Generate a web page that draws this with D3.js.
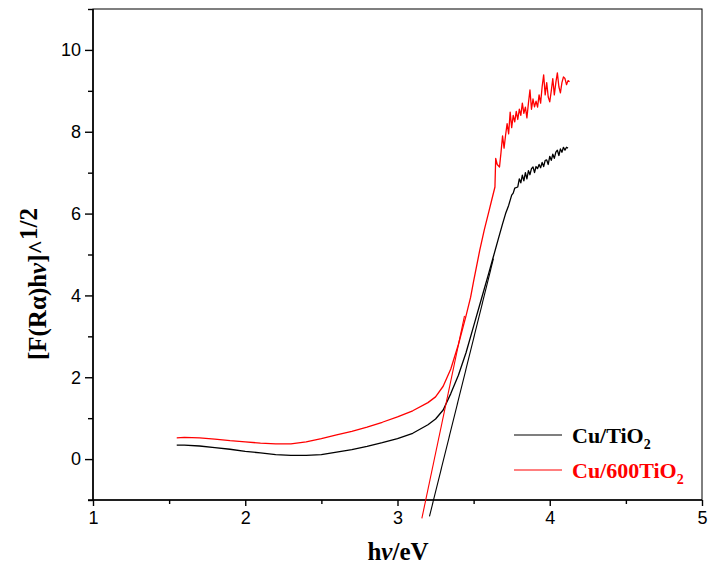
<!DOCTYPE html>
<html>
<head>
<meta charset="utf-8">
<script src="https://cdn.jsdelivr.net/npm/d3@7"></script>
<style>
    body { margin: 0; background: #fff; }
</style>
</head>
<body>
<div id="wrapper"></div>
<script>
// Cu/TiO2 (black)
const energyA = [1.55, 1.6, 1.7, 1.8, 1.9, 2.0, 2.1, 2.2, 2.3, 2.4, 2.5, 2.6, 2.7, 2.8, 2.9, 3.0, 3.1, 3.2, 3.25, 3.3, 3.35, 3.4, 3.45, 3.5, 3.55, 3.6, 3.63, 3.66, 3.69, 3.71, 3.73, 3.75, 3.76, 3.77, 3.79, 3.80, 3.81, 3.82, 3.83, 3.84, 3.85, 3.86, 3.87, 3.88, 3.89, 3.90, 3.91, 3.92, 3.93, 3.94, 3.95, 3.96, 3.97, 3.98, 3.99, 4.00, 4.01, 4.02, 4.03, 4.04, 4.05, 4.06, 4.07, 4.08, 4.09, 4.10, 4.11, 4.12]
const valuesA = [0.34, 0.34, 0.32, 0.28, 0.24, 0.19, 0.15, 0.11, 0.09, 0.09, 0.11, 0.17, 0.23, 0.31, 0.40, 0.50, 0.63, 0.84, 0.98, 1.2, 1.6, 2.05, 2.6, 3.25, 3.9, 4.55, 4.95, 5.35, 5.75, 6.0, 6.2, 6.45, 6.5, 6.62, 6.65, 6.85, 6.75, 6.94, 6.8, 7.0, 6.85, 7.05, 6.95, 7.1, 7.14, 7.0, 7.15, 7.1, 7.2, 7.12, 7.25, 7.15, 7.3, 7.31, 7.2, 7.4, 7.3, 7.45, 7.35, 7.5, 7.55, 7.42, 7.58, 7.5, 7.62, 7.55, 7.62, 7.60]

// Cu/600TiO2 (red)
const energyB = [1.55, 1.6, 1.7, 1.8, 1.9, 2.0, 2.1, 2.2, 2.3, 2.4, 2.5, 2.6, 2.7, 2.8, 2.9, 3.0, 3.1, 3.2, 3.25, 3.3, 3.35, 3.4, 3.45, 3.48, 3.5, 3.54, 3.57, 3.60, 3.62, 3.64, 3.645, 3.655, 3.67, 3.68, 3.69, 3.70, 3.71, 3.72, 3.73, 3.74, 3.75, 3.76, 3.77, 3.78, 3.79, 3.80, 3.81, 3.82, 3.83, 3.84, 3.85, 3.86, 3.87, 3.88, 3.89, 3.90, 3.91, 3.92, 3.93, 3.94, 3.95, 3.96, 3.97, 3.98, 3.99, 4.00, 4.01, 4.02, 4.03, 4.04, 4.05, 4.06, 4.07, 4.08, 4.09, 4.10, 4.11, 4.12, 4.13]
const valuesB = [0.52, 0.53, 0.52, 0.49, 0.45, 0.42, 0.39, 0.37, 0.37, 0.42, 0.50, 0.59, 0.68, 0.78, 0.90, 1.03, 1.18, 1.38, 1.52, 1.78, 2.2, 2.8, 3.5, 3.95, 4.35, 5.1, 5.6, 6.05, 6.35, 6.65, 7.35, 7.2, 7.14, 7.5, 7.9, 7.6, 7.92, 8.2, 7.95, 8.48, 8.1, 8.4, 8.24, 8.5, 8.3, 8.55, 8.4, 8.70, 8.45, 8.6, 8.34, 8.7, 9.02, 8.55, 8.8, 8.61, 8.75, 8.6, 8.9, 8.7, 9.1, 9.39, 8.9, 9.2, 8.85, 8.73, 9.0, 9.3, 8.9, 9.2, 9.44, 9.1, 8.95, 9.2, 9.34, 9.3, 9.15, 9.25, 9.22]

// tangent lines (band-gap extrapolation), end points
const fitA = [[3.21, -1.4], [3.63, 4.9]]
const fitB = [[3.16, -1.45], [3.44, 3.5]]

const xTicks = [1, 2, 3, 4, 5]
const xMinorTicks = [1.5, 2.5, 3.5, 4.5]
const yTicks = [0, 2, 4, 6, 8, 10]
const yMinorTicks = [-1, 1, 3, 5, 7, 9, 11]

const seriesNames = ["Cu/TiO", "Cu/600TiO"]
const seriesColors = ["#000000", "#ff0000"]

function drawChart() {
    const dimensions = {
        width: 710,
        height: 572,
        margin: {top: 9, right: 8, bottom: 72, left: 93},
    }
    dimensions.boundedWidth = dimensions.width - dimensions.margin.left - dimensions.margin.right
    dimensions.boundedHeight = dimensions.height - dimensions.margin.top - dimensions.margin.bottom

    const svg = d3.select("#wrapper").append("svg")
        .attr("width", dimensions.width)
        .attr("height", dimensions.height)
    const bounds = svg.append("g")
        .attr("transform", `translate(${dimensions.margin.left},${dimensions.margin.top})`)

    const xScale = d3.scaleLinear().domain([1, 5]).range([0, dimensions.boundedWidth])
    const yScale = d3.scaleLinear().domain([-1, 11]).range([dimensions.boundedHeight, 0])

    // frame
    bounds.append("rect")
        .attr("width", dimensions.boundedWidth)
        .attr("height", dimensions.boundedHeight)
        .attr("fill", "none")
        .attr("stroke", "#000")
        .attr("stroke-width", 1)

    // axes
    const tickFont = g => g.selectAll("text")
        .attr("font-family", "'Liberation Sans', Arial, sans-serif")
        .attr("font-size", "18px")
        .attr("fill", "#000")

    const xAxis = bounds.append("g")
        .attr("transform", `translate(0,${dimensions.boundedHeight})`)
        .call(d3.axisBottom(xScale).tickValues(xTicks).tickFormat(d3.format("d")).tickSize(6).tickPadding(5))
        .call(tickFont)
    xAxis.select(".domain").attr("d", `M-5,0H${dimensions.boundedWidth}`).attr("stroke-width", 1.6)
    xAxis.selectAll(".tick line").attr("stroke-width", 1.4)
    bounds.append("g")
        .attr("transform", `translate(0,${dimensions.boundedHeight})`)
        .call(d3.axisBottom(xScale).tickValues(xMinorTicks).tickFormat("").tickSize(4))
        .call(g => g.select(".domain").remove())
        .selectAll(".tick line").attr("stroke-width", 1.4)

    const yAxis = bounds.append("g")
        .call(d3.axisLeft(yScale).tickValues(yTicks).tickFormat(d3.format("d")).tickSize(8).tickPadding(4))
        .call(tickFont)
    yAxis.select(".domain").attr("d", `M0,0V${dimensions.boundedHeight}`).attr("stroke-width", 1.6)
    yAxis.selectAll(".tick line").attr("stroke-width", 1.4)
    bounds.append("g")
        .call(d3.axisLeft(yScale).tickValues(yMinorTicks).tickFormat("").tickSize(5))
        .call(g => g.select(".domain").remove())
        .selectAll(".tick line").attr("stroke-width", 1.4)

    // data lines
    const line = d3.line().x(d => xScale(d[0])).y(d => yScale(d[1]))
    const series = [
        d3.zip(energyA, valuesA),
        d3.zip(energyB, valuesB),
    ]
    bounds.selectAll(".curve")
        .data(series)
        .join("path")
        .attr("class", "curve")
        .attr("d", line)
        .attr("fill", "none")
        .attr("stroke", (d, i) => seriesColors[i])
        .attr("stroke-width", 1.3)
        .attr("stroke-linejoin", "round")

    bounds.selectAll(".fit")
        .data([fitA, fitB])
        .join("path")
        .attr("class", "fit")
        .attr("d", line)
        .attr("fill", "none")
        .attr("stroke", (d, i) => seriesColors[i])
        .attr("stroke-width", 1.1)

    // axis titles
    const serif = "'Liberation Serif', 'Times New Roman', serif"
    const xTitle = svg.append("text")
        .attr("x", 398)
        .attr("y", 560)
        .attr("text-anchor", "middle")
        .attr("font-family", serif)
        .attr("font-weight", "bold")
        .attr("font-size", "25px")
    xTitle.append("tspan").text("h")
    xTitle.append("tspan").attr("font-style", "italic").text("ν")
    xTitle.append("tspan").text("/eV")

    const yTitle = svg.append("text")
        .attr("transform", "translate(46,284) rotate(-90)")
        .attr("text-anchor", "middle")
        .attr("font-family", serif)
        .attr("font-weight", "bold")
        .attr("font-size", "25px")
    yTitle.append("tspan").text("[F(R")
    yTitle.append("tspan").text("α")
    yTitle.append("tspan").text(")h")
    yTitle.append("tspan").attr("font-style", "italic").text("ν")
    yTitle.append("tspan").text("]^")
    yTitle.append("tspan").attr("dy", -9).text("1/2")

    // legend
    const legend = svg.append("g")
    const legendY = [435, 470]
    legend.selectAll("line")
        .data(seriesNames)
        .join("line")
        .attr("x1", 514)
        .attr("x2", 562)
        .attr("y1", (d, i) => legendY[i])
        .attr("y2", (d, i) => legendY[i])
        .attr("stroke", (d, i) => seriesColors[i])
        .attr("stroke-width", 1.1)
    const labels = legend.selectAll("text")
        .data(seriesNames)
        .join("text")
        .attr("x", 572)
        .attr("y", (d, i) => legendY[i] + 8)
        .attr("font-family", serif)
        .attr("font-weight", "bold")
        .attr("font-size", "22px")
        .attr("fill", (d, i) => seriesColors[i])
    labels.append("tspan").text(d => d)
    labels.append("tspan").attr("font-size", "14px").attr("dy", 6).text("2")
}

drawChart()
</script>
</body>
</html>
